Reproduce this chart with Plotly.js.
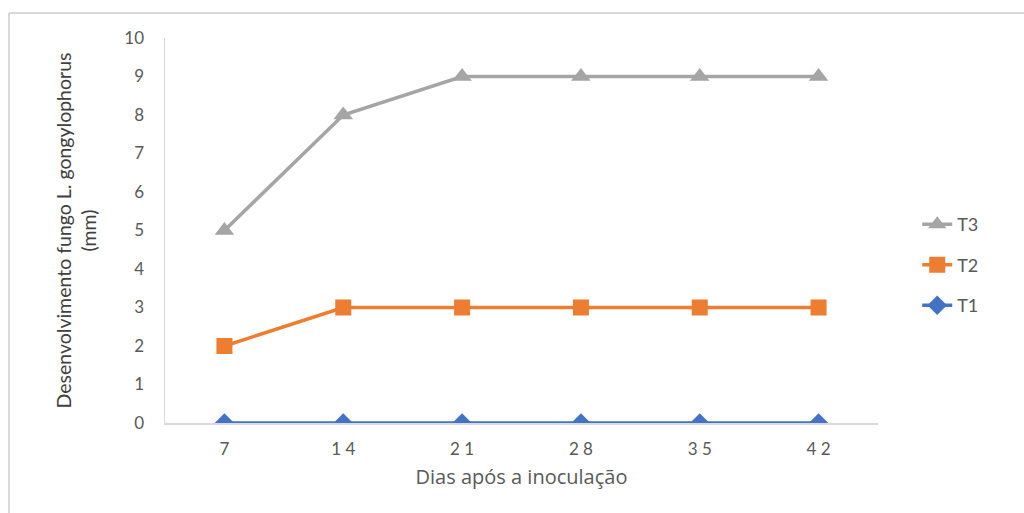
<!DOCTYPE html>
<html>
<head>
<meta charset="utf-8">
<script src="https://cdn.plot.ly/plotly-3.0.1.min.js"></script>
<style>html,body{margin:0;padding:0;background:#fff;}#chart{width:1024px;height:513px;}</style>
</head>
<body>
<div id="chart"></div>
<script>
const days = ['7', '14', '21', '28', '35', '42'];
const dayLabels = ['7', '1 4', '2 1', '2 8', '3 5', '4 2'];
const t1 = [0, 0, 0, 0, 0, 0];
const t2 = [2, 3, 3, 3, 3, 3];
const t3 = [5, 8, 9, 9, 9, 9];
const yTicks = [0, 1, 2, 3, 4, 5, 6, 7, 8, 9, 10];

const font = 'Lato, "Open Sans", sans-serif';

const traces = [
  {x: days, y: t1, name: 'T1', legendgroup: 'g1', legendrank: 3, type: 'scatter', mode: 'lines+markers',
   line: {color: '#4472C4', width: 3.5}, marker: {symbol: 'diamond', size: 15, color: '#4472C4'}},
  {x: days, y: t2, name: 'T2', legendgroup: 'g2', legendrank: 2, type: 'scatter', mode: 'lines+markers',
   line: {color: '#ED7D31', width: 3.5}, marker: {symbol: 'square', size: 16, color: '#ED7D31'}},
  {x: days, y: t3, name: 'T3', legendgroup: 'g3', legendrank: 1, type: 'scatter', mode: 'lines+markers',
   line: {color: '#A5A5A5', width: 3.5}, marker: {symbol: 'triangle-up', size: 17, color: '#A5A5A5'}}
];

const layout = {
  width: 1024, height: 513,
  margin: {l: 165, r: 146, t: 38, b: 90},
  paper_bgcolor: '#fff', plot_bgcolor: '#fff',
  font: {family: font, color: '#595959', size: 17},
  showlegend: true,
  legend: {x: 1.055, y: 0.41, yanchor: 'middle', xanchor: 'left', traceorder: 'grouped',
           tracegroupgap: 14, font: {size: 18, color: '#595959'}, itemwidth: 30},
  xaxis: {
    type: 'category', categoryorder: 'array', categoryarray: days,
    tickvals: days, ticktext: dayLabels, range: [-0.5, 5.5],
    showgrid: false, zeroline: false, showline: true, linecolor: '#D9D9D9', linewidth: 1.5,
    ticks: 'outside', ticklen: 10, tickcolor: 'rgba(0,0,0,0)', tickfont: {size: 17, color: '#595959'},
    title: {text: 'Dias após a inoculação', font: {family: '"Open Sans", sans-serif', size: 20, color: '#595959'}, standoff: 12}
  },
  yaxis: {
    range: [0, 10], tickvals: yTicks, ticktext: yTicks.map(String),
    showgrid: false, zeroline: false, showline: true, linecolor: '#D9D9D9', linewidth: 1.5,
    ticks: 'outside', ticklen: 16, tickcolor: 'rgba(0,0,0,0)', tickfont: {size: 17, color: '#595959'},
    title: {text: 'Desenvolvimento fungo L. gongylophorus<br>(mm)', font: {size: 19.5, color: '#404040'}, standoff: 22}
  },
  shapes: [
    {type: 'line', xref: 'paper', yref: 'paper', x0: -0.2188, x1: 1.3, y0: 1.0649, y1: 1.0649,
     line: {color: '#D9D9D9', width: 2}},
    {type: 'line', xref: 'paper', yref: 'paper', x0: -0.2188, x1: -0.2188, y0: 1.0649, y1: -0.3,
     line: {color: '#D9D9D9', width: 2}}
  ]
};

Plotly.newPlot('chart', traces, layout, {displayModeBar: false, staticPlot: true});
</script>
</body>
</html>
